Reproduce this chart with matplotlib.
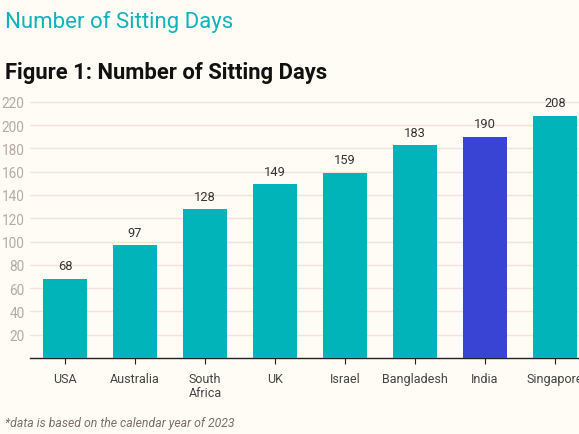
# bar chart of sitting days per country
import matplotlib.pyplot as plt

countries = ["USA", "Australia", "South\nAfrica", "UK", "Israel", "Bangladesh", "India", "Singapore"]
days = [68, 97, 128, 149, 159, 183, 190, 208]
highlight = "India"
yticks = [20, 40, 60, 80, 100, 120, 140, 160, 180, 200, 220]

teal = "#00b4b9"
blue = "#3a44d4"
bg = "#fffcf6"

plt.rcParams["font.family"] = ["Roboto", "DejaVu Sans"]

fig = plt.figure(figsize=(5.79, 4.35), dpi=100, facecolor=bg)
# axes from x=30px to past right edge, baseline y=359px
ax = fig.add_axes([30 / 579, (435 - 359) / 435, 560 / 579, (359 - 97) / 435])
ax.set_facecolor(bg)

colors = [blue if c == highlight else teal for c in countries]
x = range(len(countries))
bars = ax.bar(x, days, width=0.62, color=colors, zorder=3)
for b, v in zip(bars, days):
    ax.text(b.get_x() + b.get_width() / 2, v + 5.5, str(v), ha="center", va="bottom",
            fontsize=9.3, color="#333333")

ax.set_xlim(-0.5, 7.5)
ax.set_ylim(0, 225)
ax.set_yticks(yticks)
ax.set_xticks(list(x))
ax.set_xticklabels(countries, fontsize=9, color="#444444", linespacing=1.1)
ax.tick_params(axis="x", length=4, color="#222222", pad=6)
ax.tick_params(axis="y", length=0, labelsize=9.8, labelcolor="#b8a9a4", pad=4)
ax.grid(axis="y", color="#f6e2dc", linewidth=1, zorder=0)
for s in ["top", "right", "left"]:
    ax.spines[s].set_visible(False)
ax.spines["bottom"].set_color("#222222")
ax.spines["bottom"].set_linewidth(1)

fig.text(5 / 579, 1 - 22 / 435, "Number of Sitting Days", color="#11b2be",
         fontsize=16, va="center", ha="left")
fig.text(5 / 579, 1 - 73 / 435, "Figure 1: Number of Sitting Days", color="#111111",
         fontsize=15.8, fontweight="bold", va="center", ha="left")
fig.text(5 / 579, 1 - 424 / 435, "*data is based on the calendar year of 2023",
         color="#7a6e6a", fontsize=8.8, style="italic", va="center", ha="left")

fig.savefig("out.png", dpi=100, facecolor=bg)
